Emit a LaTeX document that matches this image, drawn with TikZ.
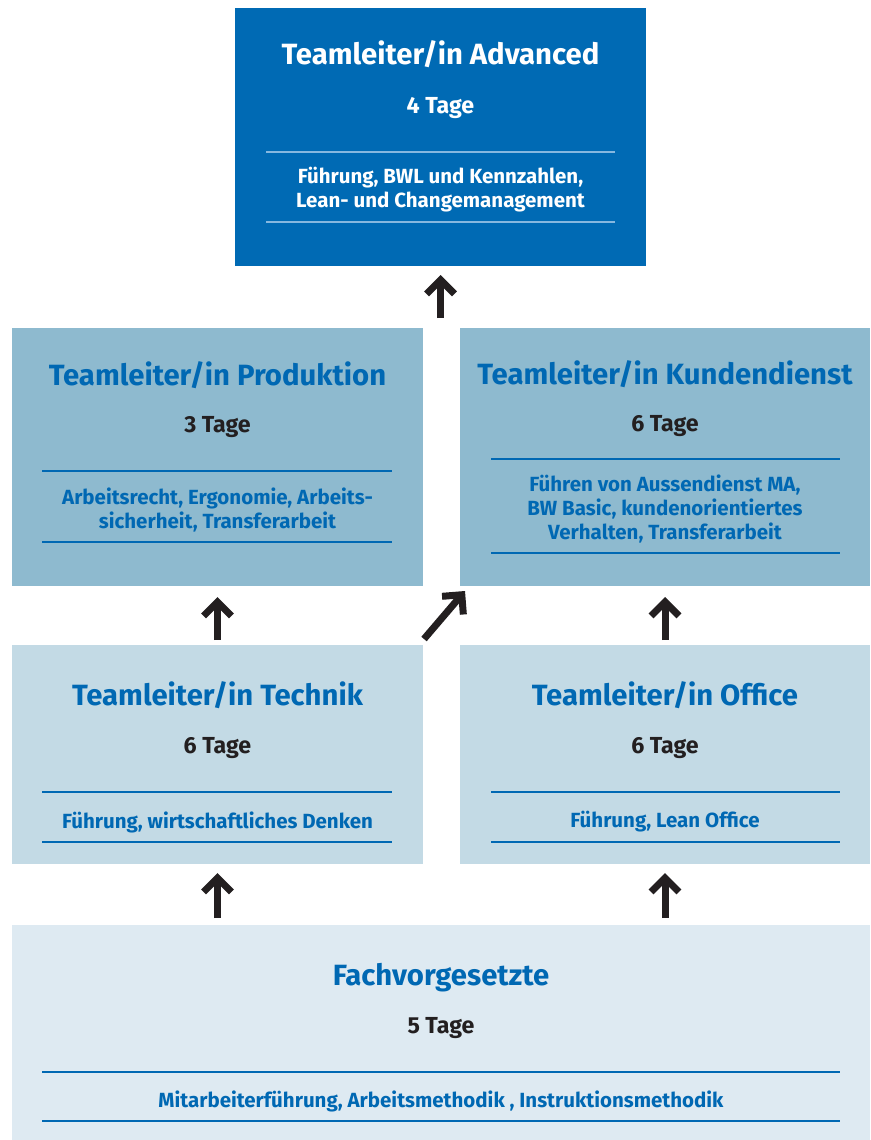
\documentclass[tikz,border=0pt]{standalone}
\usepackage{fontspec}
\setmainfont{Fira Sans}
\usetikzlibrary{arrows.meta,calc}
\definecolor{advblue}{HTML}{006AB4}
\definecolor{titleblue}{HTML}{0068B3}
\definecolor{lvltwo}{HTML}{8EBACF}
\definecolor{lvlthree}{HTML}{C3DAE5}
\definecolor{lvlfour}{HTML}{DEEAF2}
\definecolor{darktext}{HTML}{231F20}
\definecolor{advline}{HTML}{86B8E0}
\begin{document}
\begin{tikzpicture}[x=1pt,y=-1pt,
  box/.style={draw=none, inner sep=0pt, outer sep=0pt, anchor=north west},
  ttl/.style={anchor=base, inner sep=0pt, font=\bfseries\fontsize{29.3}{33}\selectfont, text=titleblue},
  days/.style={anchor=base, inner sep=0pt, font=\bfseries\fontsize{23.2}{27}\selectfont, text=darktext},
  body/.style={anchor=center, inner sep=0pt, align=center, font=\bfseries\fontsize{20.5}{24}\selectfont, text=titleblue},
  sepline/.style={line width=1.2pt, draw=titleblue},
  uparrow/.style={draw=darktext, line width=7pt, -{Straight Barb[length=14pt,width=28pt]}},
]
\useasboundingbox (0,0) rectangle (870,1140);

% boxes
\node[box, fill=advblue, minimum width=411pt, minimum height=258pt] (adv) at (235,8) {};
\node[box, fill=lvltwo, minimum width=411pt, minimum height=258pt] (prod) at (12,328) {};
\node[box, fill=lvltwo, minimum width=410pt, minimum height=258pt] (kunden) at (460,328) {};
\node[box, fill=lvlthree, minimum width=411pt, minimum height=219pt] (tech) at (12,645) {};
\node[box, fill=lvlthree, minimum width=410pt, minimum height=219pt] (office) at (460,645) {};
\node[box, fill=lvlfour, minimum width=858pt, minimum height=215pt] (fach) at (12,925) {};

% Advanced
\node[ttl, text=white] (advT) at ($(adv.north)+(0,57)$) {Teamleiter/in Advanced};
\node[days, text=white] (advD) at ($(adv.north)+(0,105)$) {4 Tage};
\draw[sepline, draw=advline] ($(adv.north west)+(31,144)$) -- ($(adv.north east)+(-31,144)$);
\draw[sepline, draw=advline] ($(adv.north west)+(31,214)$) -- ($(adv.north east)+(-31,214)$);
\node[body, text=white] (advB) at ($(adv.north)+(0,182)$) {Führung, BWL und Kennzahlen,\\Lean- und Changemanagement};

% Produktion
\node[ttl] (prodT) at ($(prod.north)+(0,57)$) {Teamleiter/in Produktion};
\node[days] (prodD) at ($(prod.north)+(0,104)$) {3 Tage};
\draw[sepline] ($(prod.north west)+(30,143)$) -- ($(prod.north east)+(-31,143)$);
\draw[sepline] ($(prod.north west)+(30,214)$) -- ($(prod.north east)+(-31,214)$);
\node[body] (prodB) at ($(prod.north)+(0,182)$) {Arbeitsrecht, Ergonomie, Arbeits-\\sicherheit, Transferarbeit};

% Kundendienst
\node[ttl] (kundenT) at ($(kunden.north)+(0,56)$) {Teamleiter/in Kundendienst};
\node[days] (kundenD) at ($(kunden.north)+(0,103)$) {6 Tage};
\draw[sepline] ($(kunden.north west)+(31,131)$) -- ($(kunden.north east)+(-30,131)$);
\draw[sepline] ($(kunden.north west)+(31,225)$) -- ($(kunden.north east)+(-30,225)$);
\node[body] (kundenB) at ($(kunden.north)+(0,181)$) {Führen von Aussendienst MA,\\BW Basic, kundenorientiertes\\Verhalten, Transferarbeit};

% Technik
\node[ttl] (techT) at ($(tech.north)+(0,60)$) {Teamleiter/in Technik};
\node[days] (techD) at ($(tech.north)+(0,108)$) {6 Tage};
\draw[sepline] ($(tech.north west)+(30,147)$) -- ($(tech.north east)+(-31,147)$);
\draw[sepline] ($(tech.north west)+(30,197)$) -- ($(tech.north east)+(-31,197)$);
\node[body] (techB) at ($(tech.north)+(0,177)$) {Führung, wirtschaftliches Denken};

% Office
\node[ttl] (officeT) at ($(office.north)+(0,60)$) {Teamleiter/in Office};
\node[days] (officeD) at ($(office.north)+(0,108)$) {6 Tage};
\draw[sepline] ($(office.north west)+(31,147)$) -- ($(office.north east)+(-30,147)$);
\draw[sepline] ($(office.north west)+(31,197)$) -- ($(office.north east)+(-30,197)$);
\node[body] (officeB) at ($(office.north)+(0,177)$) {Führung, Lean Office};

% Fachvorgesetzte
\node[ttl] (fachT) at ($(fach.north)+(0,60)$) {Fachvorgesetzte};
\node[days] (fachD) at ($(fach.north)+(0,108)$) {5 Tage};
\draw[sepline] ($(fach.north west)+(30,147)$) -- ($(fach.north east)+(-30,147)$);
\draw[sepline] ($(fach.north west)+(30,196)$) -- ($(fach.north east)+(-30,196)$);
\node[body] (fachB) at ($(fach.north)+(0,176)$) {Mitarbeiterführung, Arbeitsmethodik , Instruktionsmethodik};

% arrows
\coordinate (advTail) at ($(adv.south)+(0,52)$);
\draw[uparrow, shorten >=9pt] (advTail) -- (adv.south);
\draw[uparrow, shorten <=5pt, shorten >=11pt] (tech.north) -- (prod.south);
\draw[uparrow] ($(tech.north east)+(1,-6)$) -- ($(kunden.south west)+(5,5)$);
\draw[uparrow, shorten <=5pt, shorten >=11pt] (office.north) -- (kunden.south);
\draw[uparrow, shorten <=7pt, shorten >=9pt] (fach.north -| tech.south) -- (tech.south);
\draw[uparrow, shorten <=7pt, shorten >=9pt] (fach.north -| office.south) -- (office.south);
\end{tikzpicture}
\end{document}
